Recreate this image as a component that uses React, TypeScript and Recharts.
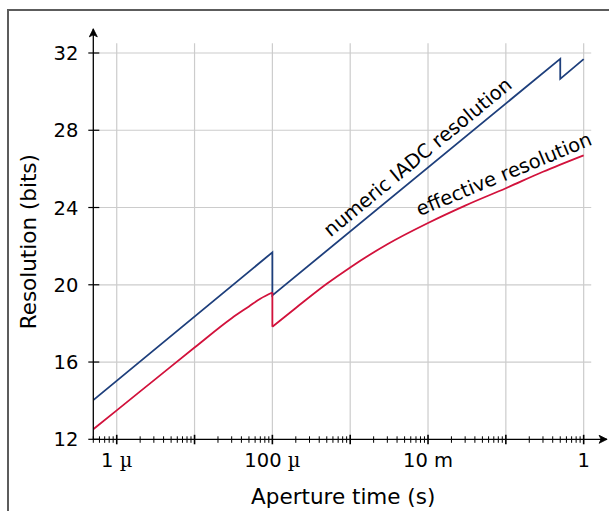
import React from 'react';
import { LineChart, Line, XAxis, YAxis, ReferenceLine, ReferenceDot, Label } from 'recharts';

// ---- data ----
const numericX = [5e-7, 1e-4, 1e-4, 0.5, 0.5, 1];
const numericY = [14.03, 21.68, 19.45, 31.7, 30.66, 31.68];

// effective resolution: two branches (before / after the 100 µ switch)
const effectiveX1 = [5e-7, 1e-6, 3e-6, 1e-5, 3e-5, 5e-5, 7e-5, 1e-4];
const effectiveY1 = [12.52, 13.5, 15.05, 16.75, 18.27, 18.88, 19.28, 19.6];
const effectiveX2 = [1e-4, 2e-4, 5e-4, 1e-3, 3e-3, 1e-2, 3e-2, 1e-1, 3e-1, 1];
const effectiveY2 = [17.83, 18.8, 20.05, 20.9, 22.1, 23.2, 24.1, 25.0, 25.85, 26.7];

const xDecades = [1e-6, 1e-5, 1e-4, 1e-3, 1e-2, 1e-1, 1];
const xTickValues = [1e-6, 1e-4, 1e-2, 1];
const xTickLabels = ['1 µ', '100 µ', '10 m', '1'];
const yTicks = [12, 16, 20, 24, 28, 32];

const annotationText = ['numeric IADC resolution', 'effective resolution'];
const annotationX = [5.6e-4, 7.8e-3];
const annotationY = [22.45, 23.55];
const annotationAngle = [-39.5, -22.5];

// minor ticks 2..9 per decade (plus 6e-7..9e-7 below the first decade)
const xMinor: number[] = [];
[1e-7, 1e-6, 1e-5, 1e-4, 1e-3, 1e-2, 1e-1].forEach((d) => {
  for (let k = 2; k <= 9; k++) {
    const v = parseFloat((k * d).toPrecision(3));
    if (v >= 5e-7 && v < 1.01) xMinor.push(v);
  }
});
const xAllTicks = [...xMinor, ...xDecades].sort((a, b) => a - b);

const numericData = numericX.map((x, i) => ({ x, y: numericY[i] }));
const effectiveData1 = effectiveX1.map((x, i) => ({ x, y: effectiveY1[i] }));
const effectiveData2 = effectiveX2.map((x, i) => ({ x, y: effectiveY2[i] }));
const dropData = [
  { x: 1e-4, y: effectiveY1[effectiveY1.length - 1] },
  { x: 1e-4, y: effectiveY2[0] },
];

const FONT = 'DejaVu Sans, Verdana, sans-serif';
const BLUE = '#1e3f7c';
const RED = '#d2123c';
const GRID = '#cccccc';

const same = (a: number, b: number) => Math.abs(Math.log10(a) - Math.log10(b)) < 1e-6;

const XTick = (props: any) => {
  const { x, y, payload } = props;
  const v = payload.value as number;
  const major = xDecades.some((d) => same(d, v));
  const li = xTickValues.findIndex((d) => same(d, v));
  const label = li >= 0 ? xTickLabels[li] : null;
  let main = label || '';
  let micro = '';
  if (label && label.endsWith('µ')) {
    main = label.slice(0, -1);
    micro = 'µ';
  }
  return (
    <g>
      <line x1={x} x2={x} y1={y - (major ? 4.5 : 3)} y2={y + (major ? 5 : 3.5)} stroke="#000" strokeWidth={major ? 1.6 : 1} />
      {label && (
        <text x={x} y={y + 28} textAnchor="middle" fontSize={19.5} fontFamily={FONT} fill="#000">
          {main}
          {micro && <tspan fontFamily="DejaVu Serif, serif">{micro}</tspan>}
        </text>
      )}
    </g>
  );
};

const YTick = (props: any) => {
  const { x, y, payload } = props;
  return (
    <g>
      <line x1={x - 5} x2={x + 6} y1={y} y2={y} stroke="#000" strokeWidth={1.2} />
      <text x={x - 15} y={y + 7} textAnchor="end" fontSize={19.5} fontFamily={FONT} fill="#000">
        {payload.value}
      </text>
    </g>
  );
};

const XArrow = (p: any) => (
  <path d={`M${p.cx},${p.cy} L${p.cx - 8},${p.cy - 4} L${p.cx - 6},${p.cy} L${p.cx - 8},${p.cy + 4} Z`} fill="#000" stroke="#000" strokeWidth={0.8} />
);
const YArrow = (p: any) => (
  <path d={`M${p.cx},${p.cy} L${p.cx - 4},${p.cy + 8} L${p.cx},${p.cy + 6} L${p.cx + 4},${p.cy + 8} Z`} fill="#000" stroke="#000" strokeWidth={0.8} />
);

const makeAnno = (i: number) => (p: any) => (
  <text
    x={p.cx}
    y={p.cy}
    transform={`rotate(${annotationAngle[i]}, ${p.cx}, ${p.cy})`}
    textAnchor="start"
    fontSize={19.5}
    fontFamily={FONT}
    fill="#000"
  >
    {annotationText[i]}
  </text>
);

export default function App() {
  return (
    <div style={{ position: 'absolute', left: 0, top: 0, width: 609, height: 511, overflow: 'hidden', background: '#fff' }}>
      <div
        style={{
          position: 'absolute',
          left: 7,
          top: 9,
          width: 660,
          height: 560,
          border: '2px solid #5c5c5c',
          boxSizing: 'border-box',
        }}
      />
      <div style={{ position: 'absolute', left: 0, top: 0 }}>
        <LineChart width={609} height={511} margin={{ top: 28.85, right: 1.9, bottom: 0, left: 0 }}>
          <XAxis
            type="number"
            dataKey="x"
            scale="log"
            domain={[5e-7, 2]}
            allowDataOverflow
            ticks={xAllTicks}
            interval={0}
            tickSize={0}
            tickMargin={0}
            height={71.7}
            tick={<XTick />}
            tickLine={false}
            axisLine={{ stroke: '#000', strokeWidth: 1.3 }}
          >
            <Label
              content={(p: any) => {
                const vb = p.viewBox;
                return (
                  <text x={vb.x + vb.width / 2 - 7} y={vb.y + 64.5} textAnchor="middle" fontSize={21.5} fontFamily={FONT} fill="#000">
                    Aperture time (s)
                  </text>
                );
              }}
            />
          </XAxis>
          <YAxis
            type="number"
            domain={[12, 33.25]}
            allowDataOverflow
            ticks={yTicks}
            interval={0}
            tickSize={0}
            tickMargin={0}
            width={93.3}
            tick={<YTick />}
            tickLine={false}
            axisLine={{ stroke: '#000', strokeWidth: 1.3 }}
          >
            <Label
              content={() => (
                <text x={35.7} y={241.7} transform="rotate(-90, 35.7, 241.7)" textAnchor="middle" fontSize={21.5} fontFamily={FONT} fill="#000">
                  Resolution (bits)
                </text>
              )}
            />
          </YAxis>

          {xDecades.map((d) => (
            <ReferenceLine key={'vx' + d} segment={[{ x: d, y: 12 }, { x: d, y: 32.5 }]} stroke={GRID} strokeWidth={1.2} ifOverflow="visible" />
          ))}
          {yTicks.slice(1).map((t) => (
            <ReferenceLine key={'hy' + t} segment={[{ x: 5e-7, y: t }, { x: 1.25, y: t }]} stroke={GRID} strokeWidth={1.2} ifOverflow="visible" />
          ))}

          <Line data={numericData} dataKey="y" type="linear" stroke={BLUE} strokeWidth={1.8} dot={false} isAnimationActive={false} />
          <Line data={effectiveData1} dataKey="y" type="monotone" stroke={RED} strokeWidth={1.8} dot={false} isAnimationActive={false} />
          <Line data={dropData} dataKey="y" type="linear" stroke={RED} strokeWidth={1.8} dot={false} isAnimationActive={false} />
          <Line data={effectiveData2} dataKey="y" type="monotone" stroke={RED} strokeWidth={1.8} dot={false} isAnimationActive={false} />

          <ReferenceDot x={2} y={12} ifOverflow="visible" shape={XArrow} />
          <ReferenceDot x={5e-7} y={33.25} ifOverflow="visible" shape={YArrow} />
          {annotationText.map((t, i) => (
            <ReferenceDot key={t} x={annotationX[i]} y={annotationY[i]} ifOverflow="visible" shape={makeAnno(i)} />
          ))}
        </LineChart>
      </div>
    </div>
  );
}
